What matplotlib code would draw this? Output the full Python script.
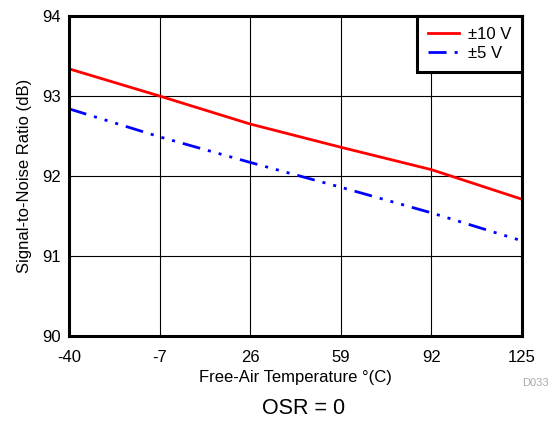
import matplotlib
matplotlib.use("Agg")
import matplotlib.pyplot as plt

temps = [-40, -7, 26, 59, 92, 125]
snr_10v = [93.34, 93.0, 92.65, 92.36, 92.08, 91.71]
snr_5v = [92.84, 92.49, 92.17, 91.86, 91.54, 91.19]
xticks = [-40, -7, 26, 59, 92, 125]
yticks = [90, 91, 92, 93, 94]

plt.rcParams['font.family'] = ['Liberation Sans', 'DejaVu Sans']
plt.rcParams['font.size'] = 12

fig = plt.figure(figsize=(5.49, 4.24), dpi=100)
ax = fig.add_axes([0.1257, 0.2075, 0.825, 0.7547])

ax.plot(temps, snr_10v, color='#ff0000', lw=2, label='±10 V')
ax.plot(temps, snr_5v, color='#0000ff', lw=2,
        dashes=[6.5, 2.9, 1.1, 2.9, 1.1, 2.9, 1.1, 2.9], label='±5 V')

ax.set_xlim(-40, 125)
ax.set_ylim(90, 94)
ax.set_xticks(xticks)
ax.set_xticklabels([str(t) for t in xticks])
ax.set_yticks(yticks)
ax.set_yticklabels([str(t) for t in yticks])
ax.grid(True, color='black', lw=0.8)
ax.tick_params(length=0, labelsize=12)
ax.tick_params(axis='x', pad=10)
ax.tick_params(axis='y', pad=6)
for s in ax.spines.values():
    s.set_linewidth(2.2)
    s.set_zorder(5)

ax.set_xlabel('Free-Air Temperature °(C)', labelpad=4)
ax.set_ylabel('Signal-to-Noise Ratio (dB)', labelpad=7)

leg = ax.legend(loc='upper right', fancybox=False, framealpha=1, borderaxespad=0,
                handlelength=1.9, handletextpad=0.5, labelspacing=0.25,
                borderpad=0.65, edgecolor='black', fontsize=12)
leg.get_frame().set_linewidth(2.2)

fig.text(0.999, 0.097, 'D033', ha='right', va='center', color='#aaaaaa', fontsize=8)
fig.text(0.553, 0.037, 'OSR = 0', ha='center', va='center', fontsize=15.5)

fig.savefig('out.png', dpi=100)
